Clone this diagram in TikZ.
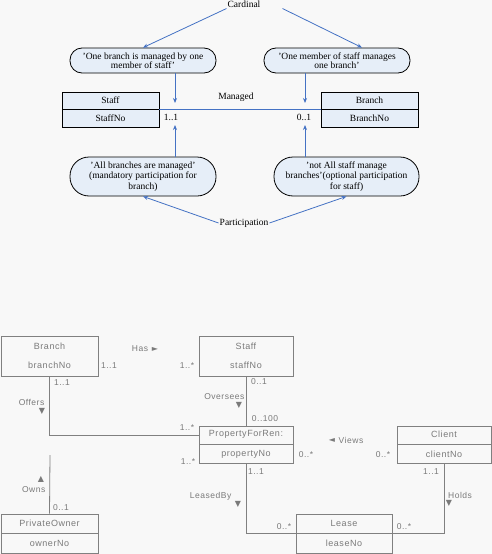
\documentclass[tikz,border=0pt]{standalone}
\usepackage{fontspec}
\setmainfont{Liberation Serif}
\newfontfamily\umlfont[LetterSpace=6]{Liberation Sans}
\newfontfamily\symfont{DejaVu Sans}
\usetikzlibrary{arrows.meta}
\definecolor{boxblue}{HTML}{E6EEF8}
\definecolor{lineblue}{HTML}{4472C4}
\definecolor{umlgray}{HTML}{808080}
\definecolor{umltext}{HTML}{7A7A7A}
\definecolor{paper}{HTML}{F8F8F8}
\tikzset{
  plain/.style={inner sep=1pt, font=\fontsize{9.5}{10}\selectfont},
  entity/.style={draw, fill=boxblue, line width=0.8pt, minimum width=97pt, minimum height=35pt,
    inner sep=0pt, align=center, font=\fontsize{9.5}{18}\selectfont, divided=black},
  divided/.style={path picture={\draw[#1, line width=0.8pt] (path picture bounding box.west) -- (path picture bounding box.east);}},
  note/.style={draw, fill=boxblue, line width=0.8pt, minimum width=146pt, inner sep=0pt, align=center},
  blueline/.style={draw=lineblue, line width=0.8pt},
  bluearrow/.style={blueline, -{Stealth[length=5pt,width=4pt]}},
  umlbox/.style={draw=umlgray, line width=0.8pt, inner sep=0pt, align=center, text=umltext,
    font=\umlfont\fontsize{9}{19.5}\selectfont},
  umllabel/.style={inner sep=1pt, text=umltext, font=\umlfont\fontsize{8.5}{9}\selectfont},
  umltri/.style={inner sep=0pt, text=umltext, font=\symfont\fontsize{8}{8}\selectfont},
  umlline/.style={draw=umlgray, line width=0.8pt}
}
\begin{document}
\begin{tikzpicture}[x=1pt,y=-1pt]
\fill[paper] (0,0) rectangle (492,554);
\useasboundingbox (0,0) rectangle (492,554);

% cardinality and participation of Manages
\node[plain] (cardinal) at (244,4) {Cardinal};
\node[note, minimum height=25pt, rounded corners=12pt,
  font={\fontsize{9.5}{8.6}\selectfont\lineskiplimit=-10pt}] (cardL) at (143,60.5)
  {'One branch is managed by one\\member of staff'};
\node[note, minimum height=25pt, rounded corners=12pt,
  font={\fontsize{9.5}{8.6}\selectfont\lineskiplimit=-10pt}] (cardR) at (337,60.5)
  {'One member of staff manages\\one branch'};
\node[entity] (staff) at (110.5,109.5) {Staff\\StaffNo};
\node[entity] (branch) at (369.5,109.5) {Branch\\BranchNo};
\node[plain] (managed) at (236,97) {Managed};
\node[plain] (staffmult) at (171,117) {1..1};
\node[plain] (branchmult) at (304,117) {0..1};
\node[note, minimum height=39pt, rounded corners=19pt,
  font={\fontsize{9.5}{10.5}\selectfont\lineskiplimit=-10pt}] (partL) at (143,176.5)
  {'All branches are managed'\\(mandatory participation for\\branch)};
\node[note, minimum height=39pt, rounded corners=19pt, minimum width=145pt,
  font={\fontsize{9.5}{10.5}\selectfont\lineskiplimit=-10pt}] (partR) at (346.5,176.5)
  {'not All staff manage\\branches'(optional participation\\for staff)};
\node[plain] (participation) at (244,223) {Participation};

\coordinate (cardtipL) at (175,103);
\coordinate (cardtipR) at (305,103);
\coordinate (parttipL) at (175,125);
\coordinate (parttipR) at (305,125);

\draw[blueline] (staff.east) -- (branch.west);
\draw[bluearrow] (cardinal.south west) -- (cardL.north);
\draw[bluearrow] ([xshift=21pt]cardinal.south east) -- ([xshift=25pt]cardR.north);
\draw[bluearrow] (cardL.south -| cardtipL) -- (cardtipL);
\draw[bluearrow] (cardR.south -| cardtipR) -- (cardtipR);
\draw[bluearrow] (partL.north -| parttipL) -- (parttipL);
\draw[bluearrow] (partR.north -| parttipR) -- (parttipR);
\draw[bluearrow] (participation.west) -- (partL.south);
\draw[bluearrow] (participation.east) -- (partR.south);

% UML class diagram
\node[umlbox, minimum width=97pt, minimum height=40pt] (ubranch) at (49.5,356) {Branch\\branchNo};
\node[umlbox, minimum width=94pt, minimum height=40pt] (ustaff) at (246,356) {Staff\\staffNo};
\node[umlbox, divided=umlgray, minimum width=94pt, minimum height=37pt] (property) at (246,444.5) {PropertyForRen:\\propertyNo};
\node[umlbox, divided=umlgray, minimum width=94pt, minimum height=37pt] (client) at (444,444.5) {Client\\clientNo};
\node[umlbox, divided=umlgray, minimum width=97pt, minimum height=39pt] (owner) at (49.5,533.5) {PrivateOwner\\ownerNo};
\node[umlbox, divided=umlgray, minimum width=96pt, minimum height=39pt] (lease) at (344,533.5) {Lease\\leaseNo};

\node[umllabel] (has) at (140,349) {Has};
\node[umltri] (hastri) at (155,349) {►};
\node[umllabel] (hasA) at (109,366) {1..1};
\node[umllabel] (hasB) at (187,366) {1..*};

\node[umllabel] (offersA) at (62,383) {1..1};
\node[umllabel, anchor=east] (offers) at (45.5,402) {Offers};
\node[umltri] (offerstri) at (42,411) {▼};
\node[umllabel] (offersB) at (187,428) {1..*};

\node[umllabel] (overseesA) at (259,382) {0..1};
\node[umllabel, anchor=east] (oversees) at (245.5,397) {Oversees};
\node[umltri] (overseestri) at (239,405) {▼};
\node[umllabel] (overseesB) at (265,419) {0..100};

\node[umltri] (viewstri) at (332,440) {◄};
\node[umllabel] (views) at (351,440) {Views};
\node[umllabel] (viewsA) at (306,455) {0..*};
\node[umllabel] (viewsB) at (383,455) {0..*};

\node[umllabel] (ownsB) at (188,462) {1..*};
\node[umltri] (ownstri) at (41,479) {▲};
\node[umllabel, anchor=east] (owns) at (46.5,490) {Owns};
\node[umllabel] (ownsA) at (61,508) {0..1};

\node[umllabel] (leasedA) at (256,472) {1..1};
\node[umllabel, anchor=east] (leasedby) at (232.5,496) {LeasedBy};
\node[umltri] (leasedtri) at (238,504) {▼};
\node[umllabel] (leasedB) at (284,527) {0..*};

\node[umllabel] (holdsA) at (431,472) {1..1};
\node[umllabel, anchor=west] (holds) at (447,495) {Holds};
\node[umltri] (holdstri) at (449,503) {▼};
\node[umllabel] (holdsB) at (404,527) {0..*};

\coordinate (ownsend) at (50,455);

\draw[umlline] (ubranch.south) |- ([yshift=9.5pt]property.west);
\draw[umlline] (ustaff) -- (property);
\draw[umlline] (owner.north) -- (ownsend);
\draw[umlline] (property.south) |- (lease.west);
\draw[umlline] (client.south) |- (lease.east);
\end{tikzpicture}
\end{document}
